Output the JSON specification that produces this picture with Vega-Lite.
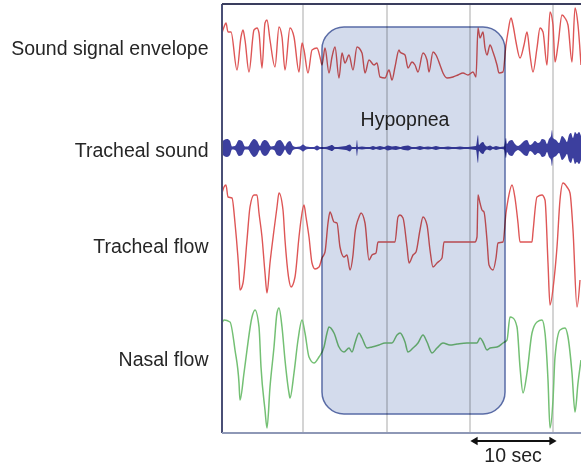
{
  "$schema": "https://vega.github.io/schema/vega-lite/v6.json",
  "width": 359,
  "height": 429,
  "autosize": {"type": "none"},
  "padding": {"left": 222, "top": 4, "right": 0, "bottom": 35},
  "background": "white",
  "config": {"view": {"stroke": null}, "font": "Liberation Sans"},
  "datasets": {
    "envelope": [
      {"t": 0, "v": 400}, {"t": 2, "v": 406}, {"t": 4, "v": 410}, {"t": 6, "v": 401}, {"t": 9, "v": 401},
      {"t": 15, "v": 363}, {"t": 19, "v": 396}, {"t": 21, "v": 403}, {"t": 23, "v": 393}, {"t": 27, "v": 361},
      {"t": 32, "v": 403}, {"t": 35, "v": 405}, {"t": 37, "v": 400}, {"t": 40, "v": 365}, {"t": 43, "v": 410},
      {"t": 45, "v": 413}, {"t": 48, "v": 393}, {"t": 53, "v": 366}, {"t": 57, "v": 406}, {"t": 60, "v": 396},
      {"t": 63, "v": 363}, {"t": 68, "v": 405}, {"t": 72, "v": 396}, {"t": 77, "v": 361}, {"t": 80, "v": 390},
      {"t": 82, "v": 383}, {"t": 86, "v": 360}, {"t": 90, "v": 383}, {"t": 95, "v": 385}, {"t": 98, "v": 376},
      {"t": 100, "v": 368}, {"t": 103, "v": 385}, {"t": 107, "v": 360}, {"t": 110, "v": 376}, {"t": 113, "v": 386},
      {"t": 117, "v": 355}, {"t": 120, "v": 380}, {"t": 123, "v": 370}, {"t": 127, "v": 378}, {"t": 131, "v": 363},
      {"t": 135, "v": 386}, {"t": 140, "v": 380}, {"t": 143, "v": 360}, {"t": 147, "v": 373}, {"t": 152, "v": 368},
      {"t": 155, "v": 370}, {"t": 158, "v": 356}, {"t": 163, "v": 355}, {"t": 167, "v": 363}, {"t": 170, "v": 353},
      {"t": 173, "v": 366}, {"t": 177, "v": 383}, {"t": 178, "v": 381}, {"t": 183, "v": 378}, {"t": 186, "v": 365},
      {"t": 190, "v": 371}, {"t": 193, "v": 368}, {"t": 196, "v": 361}, {"t": 201, "v": 380}, {"t": 205, "v": 373},
      {"t": 207, "v": 361}, {"t": 211, "v": 381}, {"t": 214, "v": 378}, {"t": 218, "v": 368}, {"t": 221, "v": 360},
      {"t": 225, "v": 355}, {"t": 231, "v": 356}, {"t": 236, "v": 358}, {"t": 241, "v": 360}, {"t": 246, "v": 358},
      {"t": 251, "v": 361}, {"t": 254, "v": 356}, {"t": 256, "v": 405}, {"t": 258, "v": 395}, {"t": 261, "v": 401},
      {"t": 263, "v": 385}, {"t": 265, "v": 378}, {"t": 268, "v": 388}, {"t": 271, "v": 381}, {"t": 275, "v": 368},
      {"t": 277, "v": 360}, {"t": 281, "v": 361}, {"t": 284, "v": 388}, {"t": 286, "v": 401}, {"t": 289, "v": 415},
      {"t": 291, "v": 408}, {"t": 294, "v": 391}, {"t": 298, "v": 375}, {"t": 302, "v": 388}, {"t": 305, "v": 401},
      {"t": 308, "v": 378}, {"t": 311, "v": 361}, {"t": 315, "v": 385}, {"t": 318, "v": 405}, {"t": 321, "v": 401},
      {"t": 325, "v": 368}, {"t": 328, "v": 421}, {"t": 331, "v": 408}, {"t": 333, "v": 371}, {"t": 336, "v": 388},
      {"t": 340, "v": 418}, {"t": 343, "v": 415}, {"t": 346, "v": 408}, {"t": 350, "v": 371}, {"t": 353, "v": 425},
      {"t": 356, "v": 408}, {"t": 359, "v": 368}
    ],
    "trachealSound": [
      {"t": 0, "hi": 291, "lo": 279}, {"t": 2, "hi": 293, "lo": 277}, {"t": 5, "hi": 294, "lo": 276}, {"t": 8, "hi": 292, "lo": 278},
      {"t": 10, "hi": 286.5, "lo": 283.5}, {"t": 13, "hi": 287, "lo": 283}, {"t": 17, "hi": 293, "lo": 277}, {"t": 20, "hi": 292, "lo": 278},
      {"t": 23, "hi": 286.5, "lo": 283.5}, {"t": 26, "hi": 286.5, "lo": 283.5}, {"t": 29, "hi": 291, "lo": 279}, {"t": 32, "hi": 294, "lo": 276},
      {"t": 35, "hi": 292, "lo": 278}, {"t": 38, "hi": 287, "lo": 283}, {"t": 40, "hi": 291, "lo": 279}, {"t": 43, "hi": 293, "lo": 277},
      {"t": 46, "hi": 291, "lo": 279}, {"t": 49, "hi": 286.5, "lo": 283.5}, {"t": 52, "hi": 287, "lo": 283}, {"t": 55, "hi": 292, "lo": 278},
      {"t": 58, "hi": 293, "lo": 277}, {"t": 61, "hi": 290, "lo": 280}, {"t": 63, "hi": 286.5, "lo": 283.5}, {"t": 65, "hi": 290, "lo": 280},
      {"t": 68, "hi": 292, "lo": 278}, {"t": 71, "hi": 287, "lo": 283}, {"t": 74, "hi": 286, "lo": 284}, {"t": 78, "hi": 286.5, "lo": 283.5},
      {"t": 81, "hi": 288.5, "lo": 281.5}, {"t": 84, "hi": 286.5, "lo": 283.5}, {"t": 88, "hi": 286, "lo": 284}, {"t": 92, "hi": 286, "lo": 284},
      {"t": 95, "hi": 287.5, "lo": 282.5}, {"t": 98, "hi": 286, "lo": 284}, {"t": 103, "hi": 286, "lo": 284}, {"t": 107, "hi": 287, "lo": 283},
      {"t": 110, "hi": 288, "lo": 282}, {"t": 113, "hi": 286, "lo": 284}, {"t": 116, "hi": 286, "lo": 284}, {"t": 120, "hi": 286.5, "lo": 283.5},
      {"t": 124, "hi": 287, "lo": 283}, {"t": 128, "hi": 288.5, "lo": 281.5}, {"t": 130, "hi": 286, "lo": 284}, {"t": 134, "hi": 286, "lo": 284},
      {"t": 135, "hi": 293, "lo": 277}, {"t": 136, "hi": 286, "lo": 284}, {"t": 140, "hi": 286.5, "lo": 283.5}, {"t": 144, "hi": 286, "lo": 284},
      {"t": 148, "hi": 286, "lo": 284}, {"t": 151, "hi": 287, "lo": 283}, {"t": 154, "hi": 286, "lo": 284}, {"t": 158, "hi": 287, "lo": 283},
      {"t": 162, "hi": 286, "lo": 284}, {"t": 166, "hi": 287.5, "lo": 282.5}, {"t": 170, "hi": 286.5, "lo": 283.5}, {"t": 174, "hi": 287, "lo": 283},
      {"t": 178, "hi": 286, "lo": 284}, {"t": 182, "hi": 287, "lo": 283}, {"t": 186, "hi": 287.5, "lo": 282.5}, {"t": 190, "hi": 286, "lo": 284},
      {"t": 194, "hi": 286, "lo": 284}, {"t": 198, "hi": 287, "lo": 283}, {"t": 202, "hi": 286, "lo": 284}, {"t": 206, "hi": 286.5, "lo": 283.5},
      {"t": 210, "hi": 286, "lo": 284}, {"t": 214, "hi": 287, "lo": 283}, {"t": 218, "hi": 286, "lo": 284}, {"t": 222, "hi": 286, "lo": 284},
      {"t": 226, "hi": 286.5, "lo": 283.5}, {"t": 230, "hi": 286, "lo": 284}, {"t": 234, "hi": 286, "lo": 284}, {"t": 238, "hi": 286.5, "lo": 283.5},
      {"t": 242, "hi": 286, "lo": 284}, {"t": 246, "hi": 286, "lo": 284}, {"t": 250, "hi": 286.5, "lo": 283.5}, {"t": 254, "hi": 287, "lo": 283},
      {"t": 256, "hi": 298, "lo": 270}, {"t": 257, "hi": 288, "lo": 282}, {"t": 259, "hi": 290, "lo": 280}, {"t": 261, "hi": 291, "lo": 279},
      {"t": 263, "hi": 288, "lo": 282}, {"t": 265, "hi": 286.5, "lo": 283.5}, {"t": 268, "hi": 287.5, "lo": 282.5}, {"t": 271, "hi": 286, "lo": 284},
      {"t": 274, "hi": 287, "lo": 283}, {"t": 278, "hi": 286, "lo": 284}, {"t": 282, "hi": 286.5, "lo": 283.5}, {"t": 284, "hi": 295, "lo": 275},
      {"t": 285, "hi": 289, "lo": 281}, {"t": 287, "hi": 292, "lo": 278}, {"t": 290, "hi": 293, "lo": 277}, {"t": 293, "hi": 289, "lo": 281},
      {"t": 296, "hi": 287, "lo": 283}, {"t": 299, "hi": 289, "lo": 281}, {"t": 302, "hi": 292, "lo": 278}, {"t": 305, "hi": 293, "lo": 277},
      {"t": 308, "hi": 288, "lo": 282}, {"t": 310, "hi": 289, "lo": 281}, {"t": 313, "hi": 292, "lo": 278}, {"t": 316, "hi": 290, "lo": 280},
      {"t": 318, "hi": 291, "lo": 279}, {"t": 320, "hi": 294, "lo": 276}, {"t": 323, "hi": 293, "lo": 277}, {"t": 325, "hi": 289, "lo": 281},
      {"t": 327, "hi": 294, "lo": 276}, {"t": 329, "hi": 297, "lo": 273}, {"t": 330, "hi": 303, "lo": 267}, {"t": 331, "hi": 295, "lo": 275},
      {"t": 334, "hi": 293, "lo": 277}, {"t": 337, "hi": 290, "lo": 280}, {"t": 340, "hi": 297, "lo": 273}, {"t": 343, "hi": 294, "lo": 276},
      {"t": 345, "hi": 291, "lo": 279}, {"t": 347, "hi": 298, "lo": 272}, {"t": 349, "hi": 300, "lo": 270}, {"t": 351, "hi": 295, "lo": 275},
      {"t": 353, "hi": 301, "lo": 269}, {"t": 355, "hi": 299, "lo": 271}, {"t": 357, "hi": 301, "lo": 269}, {"t": 359, "hi": 297, "lo": 273}
    ],
    "trachealFlow": [
      {"t": 0, "v": 240}, {"t": 2, "v": 246}, {"t": 4, "v": 248}, {"t": 6, "v": 236}, {"t": 10, "v": 235},
      {"t": 13, "v": 210}, {"t": 17, "v": 160}, {"t": 18, "v": 143}, {"t": 21, "v": 150}, {"t": 25, "v": 193},
      {"t": 28, "v": 226}, {"t": 32, "v": 238}, {"t": 35, "v": 238}, {"t": 37, "v": 220}, {"t": 40, "v": 196},
      {"t": 43, "v": 160}, {"t": 45, "v": 140}, {"t": 48, "v": 170}, {"t": 52, "v": 203}, {"t": 55, "v": 226},
      {"t": 57, "v": 240}, {"t": 61, "v": 223}, {"t": 63, "v": 193}, {"t": 67, "v": 153}, {"t": 69, "v": 146},
      {"t": 73, "v": 156}, {"t": 77, "v": 196}, {"t": 79, "v": 213}, {"t": 82, "v": 228}, {"t": 84, "v": 216},
      {"t": 87, "v": 196}, {"t": 90, "v": 170}, {"t": 93, "v": 164}, {"t": 97, "v": 166}, {"t": 100, "v": 175},
      {"t": 103, "v": 181}, {"t": 106, "v": 210}, {"t": 108, "v": 221}, {"t": 112, "v": 211}, {"t": 115, "v": 210},
      {"t": 118, "v": 186}, {"t": 122, "v": 176}, {"t": 125, "v": 178}, {"t": 128, "v": 163}, {"t": 131, "v": 178},
      {"t": 133, "v": 200}, {"t": 137, "v": 216}, {"t": 139, "v": 220}, {"t": 143, "v": 210}, {"t": 147, "v": 173},
      {"t": 150, "v": 178}, {"t": 154, "v": 180}, {"t": 156, "v": 191}, {"t": 173, "v": 191}, {"t": 176, "v": 216},
      {"t": 178, "v": 218}, {"t": 181, "v": 215}, {"t": 185, "v": 186}, {"t": 187, "v": 170}, {"t": 191, "v": 178},
      {"t": 194, "v": 181}, {"t": 198, "v": 203}, {"t": 201, "v": 216}, {"t": 205, "v": 208}, {"t": 208, "v": 183},
      {"t": 211, "v": 166}, {"t": 215, "v": 170}, {"t": 220, "v": 175}, {"t": 222, "v": 191}, {"t": 253, "v": 191},
      {"t": 255, "v": 196}, {"t": 256, "v": 238}, {"t": 258, "v": 230}, {"t": 260, "v": 223}, {"t": 262, "v": 221},
      {"t": 265, "v": 193}, {"t": 267, "v": 168}, {"t": 271, "v": 163}, {"t": 274, "v": 175}, {"t": 276, "v": 190},
      {"t": 281, "v": 191}, {"t": 284, "v": 220}, {"t": 286, "v": 233}, {"t": 290, "v": 248}, {"t": 293, "v": 235},
      {"t": 296, "v": 210}, {"t": 298, "v": 191}, {"t": 310, "v": 191}, {"t": 311, "v": 201}, {"t": 315, "v": 236},
      {"t": 320, "v": 238}, {"t": 323, "v": 233}, {"t": 326, "v": 170}, {"t": 328, "v": 128}, {"t": 332, "v": 153},
      {"t": 335, "v": 186}, {"t": 338, "v": 233}, {"t": 341, "v": 250}, {"t": 345, "v": 246}, {"t": 348, "v": 240},
      {"t": 351, "v": 203}, {"t": 355, "v": 126}, {"t": 358, "v": 153}
    ],
    "nasalFlow": [
      {"t": 0, "v": 110}, {"t": 2, "v": 113}, {"t": 8, "v": 111}, {"t": 13, "v": 83}, {"t": 17, "v": 50},
      {"t": 18, "v": 33}, {"t": 22, "v": 60}, {"t": 25, "v": 83}, {"t": 30, "v": 116}, {"t": 33, "v": 123},
      {"t": 37, "v": 106}, {"t": 39, "v": 66}, {"t": 43, "v": 23}, {"t": 45, "v": 5}, {"t": 48, "v": 46},
      {"t": 52, "v": 86}, {"t": 55, "v": 120}, {"t": 57, "v": 125}, {"t": 60, "v": 106}, {"t": 63, "v": 73},
      {"t": 67, "v": 40}, {"t": 68, "v": 35}, {"t": 72, "v": 60}, {"t": 76, "v": 93}, {"t": 80, "v": 113},
      {"t": 83, "v": 100}, {"t": 87, "v": 76}, {"t": 92, "v": 70}, {"t": 97, "v": 76}, {"t": 102, "v": 86},
      {"t": 105, "v": 100}, {"t": 107, "v": 106}, {"t": 112, "v": 100}, {"t": 117, "v": 86}, {"t": 122, "v": 81},
      {"t": 127, "v": 85}, {"t": 130, "v": 81}, {"t": 133, "v": 90}, {"t": 137, "v": 100}, {"t": 140, "v": 95},
      {"t": 145, "v": 85}, {"t": 150, "v": 86}, {"t": 157, "v": 88}, {"t": 163, "v": 90}, {"t": 170, "v": 90},
      {"t": 175, "v": 98}, {"t": 178, "v": 100}, {"t": 183, "v": 91}, {"t": 186, "v": 81}, {"t": 191, "v": 85},
      {"t": 196, "v": 90}, {"t": 201, "v": 98}, {"t": 205, "v": 91}, {"t": 210, "v": 80}, {"t": 215, "v": 85},
      {"t": 221, "v": 90}, {"t": 228, "v": 88}, {"t": 235, "v": 89}, {"t": 245, "v": 90}, {"t": 255, "v": 90},
      {"t": 258, "v": 95}, {"t": 261, "v": 91}, {"t": 265, "v": 83}, {"t": 268, "v": 85}, {"t": 275, "v": 86},
      {"t": 281, "v": 90}, {"t": 285, "v": 93}, {"t": 288, "v": 116}, {"t": 291, "v": 115}, {"t": 295, "v": 106},
      {"t": 298, "v": 66}, {"t": 301, "v": 40}, {"t": 305, "v": 60}, {"t": 310, "v": 100}, {"t": 315, "v": 111},
      {"t": 320, "v": 113}, {"t": 323, "v": 100}, {"t": 326, "v": 53}, {"t": 328, "v": 5}, {"t": 331, "v": 33},
      {"t": 333, "v": 76}, {"t": 338, "v": 103}, {"t": 343, "v": 105}, {"t": 346, "v": 96}, {"t": 350, "v": 60},
      {"t": 353, "v": 21}, {"t": 356, "v": 50}, {"t": 359, "v": 73}
    ],
    "gridlines": [{"t": 81}, {"t": 165}, {"t": 248}, {"t": 331}],
    "event": [{"start": 100, "end": 283, "bottom": 19, "top": 406, "label": "Hypopnea", "mid": 183, "labelV": 313}],
    "scaleBar": [{"start": 252, "end": 331, "v": -8, "label": "10 sec", "mid": 291, "labelV": -23}],
    "arrowHeads": [{"t": 252, "v": -8, "shape": "triangle-left"}, {"t": 331, "v": -8, "shape": "triangle-right"}]
  },
  "layer": [
    {
      "data": {"name": "gridlines"},
      "mark": {"type": "rule", "color": "#c6c6c6", "strokeWidth": 1.5},
      "encoding": {
        "x": {"field": "t", "type": "quantitative", "scale": {"domain": [0, 359], "nice": false, "zero": false}, "axis": null},
        "y": {"datum": 0, "type": "quantitative", "scale": {"domain": [0, 429], "nice": false, "zero": false},
          "axis": {
            "values": [385, 283, 187, 74],
            "labelExpr": "datum.value == 385 ? 'Sound signal envelope' : datum.value == 283 ? 'Tracheal sound' : datum.value == 187 ? 'Tracheal flow' : 'Nasal flow'",
            "labelFontSize": 19.5, "labelColor": "#262626", "labelFont": "Liberation Sans", "labelLimit": 400,
            "labelPadding": 14, "ticks": false, "domain": false, "grid": false, "title": null
          }},
        "y2": {"datum": 429}
      }
    },
    {
      "data": {"name": "envelope"},
      "mark": {"type": "line", "color": "#de5656", "strokeWidth": 1.4, "interpolate": "monotone"},
      "encoding": {"x": {"field": "t", "type": "quantitative"}, "y": {"field": "v", "type": "quantitative"}}
    },
    {
      "data": {"name": "trachealSound"},
      "mark": {"type": "area", "color": "#3c3f9e", "opacity": 1, "interpolate": "monotone"},
      "encoding": {"x": {"field": "t", "type": "quantitative"}, "y": {"field": "hi", "type": "quantitative"}, "y2": {"field": "lo"}}
    },
    {
      "data": {"name": "trachealFlow"},
      "mark": {"type": "line", "color": "#de5656", "strokeWidth": 1.4, "interpolate": "monotone"},
      "encoding": {"x": {"field": "t", "type": "quantitative"}, "y": {"field": "v", "type": "quantitative"}}
    },
    {
      "data": {"name": "nasalFlow"},
      "mark": {"type": "line", "color": "#74c074", "strokeWidth": 1.5, "interpolate": "monotone"},
      "encoding": {"x": {"field": "t", "type": "quantitative"}, "y": {"field": "v", "type": "quantitative"}}
    },
    {
      "data": {"name": "event"},
      "mark": {"type": "rect", "fill": "#d3dbec", "stroke": "#5a6ca6", "strokeWidth": 1.5, "cornerRadius": 22, "blend": "multiply"},
      "encoding": {
        "x": {"field": "start", "type": "quantitative"}, "x2": {"field": "end"},
        "y": {"field": "bottom", "type": "quantitative"}, "y2": {"field": "top"}
      }
    },
    {
      "data": {"name": "event"},
      "mark": {"type": "text", "fontSize": 19.5, "font": "Liberation Sans", "color": "#222222", "baseline": "middle", "align": "center"},
      "encoding": {
        "x": {"field": "mid", "type": "quantitative"},
        "y": {"field": "labelV", "type": "quantitative"},
        "text": {"field": "label"}
      }
    },
    {
      "data": {"values": [{"t": 0}]},
      "mark": {"type": "rule", "color": "#4a4f76", "strokeWidth": 2},
      "encoding": {"x": {"field": "t", "type": "quantitative"}, "y": {"datum": 0}, "y2": {"datum": 429}}
    },
    {
      "data": {"values": [{"v": 429, "c": "top"}, {"v": 0, "c": "bottom"}]},
      "mark": {"type": "rule", "strokeWidth": 2},
      "encoding": {
        "y": {"field": "v", "type": "quantitative"},
        "x": {"datum": 0}, "x2": {"datum": 359},
        "color": {"field": "c", "type": "nominal", "scale": {"domain": ["top", "bottom"], "range": ["#3a3e5e", "#8e98b6"]}, "legend": null}
      }
    },
    {
      "data": {"name": "scaleBar"},
      "mark": {"type": "rule", "color": "#111111", "strokeWidth": 2},
      "encoding": {"x": {"field": "start", "type": "quantitative"}, "x2": {"field": "end"}, "y": {"field": "v", "type": "quantitative"}}
    },
    {
      "data": {"name": "arrowHeads"},
      "mark": {"type": "point", "filled": true, "color": "#111111", "size": 70, "opacity": 1},
      "encoding": {
        "x": {"field": "t", "type": "quantitative"},
        "y": {"field": "v", "type": "quantitative"},
        "shape": {"field": "shape", "type": "nominal", "scale": null}
      }
    },
    {
      "data": {"name": "scaleBar"},
      "mark": {"type": "text", "fontSize": 19.5, "font": "Liberation Sans", "color": "#222222", "baseline": "middle", "align": "center"},
      "encoding": {
        "x": {"field": "mid", "type": "quantitative"},
        "y": {"field": "labelV", "type": "quantitative"},
        "text": {"field": "label"}
      }
    }
  ]
}
